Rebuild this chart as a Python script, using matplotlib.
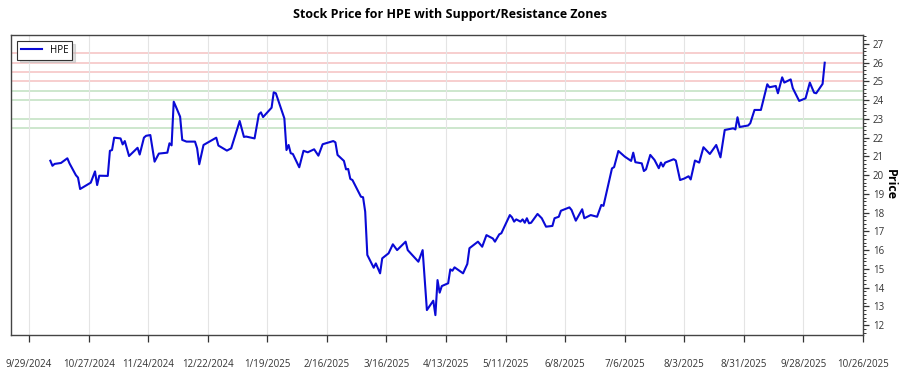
import matplotlib.pyplot as plt
import pandas as pd

plt.rcParams['font.family'] = ['Open Sans', 'DejaVu Sans']

ticker = 'HPE'

dates = [
    '2024-10-09', '2024-10-10', '2024-10-11', '2024-10-14', '2024-10-17', '2024-10-18',
    '2024-10-21', '2024-10-22', '2024-10-23', '2024-10-28', '2024-10-30', '2024-10-31',
    '2024-11-01', '2024-11-05', '2024-11-06', '2024-11-07', '2024-11-08', '2024-11-11',
    '2024-11-12', '2024-11-13', '2024-11-15', '2024-11-19', '2024-11-20', '2024-11-22',
    '2024-11-23', '2024-11-25', '2024-11-27', '2024-11-29', '2024-12-03', '2024-12-04',
    '2024-12-05', '2024-12-06', '2024-12-07', '2024-12-09', '2024-12-10', '2024-12-12',
    '2024-12-16', '2024-12-17', '2024-12-18', '2024-12-20', '2024-12-26', '2024-12-27',
    '2024-12-31', '2025-01-02', '2025-01-06', '2025-01-08', '2025-01-09', '2025-01-13',
    '2025-01-15', '2025-01-16', '2025-01-17', '2025-01-21', '2025-01-22', '2025-01-23',
    '2025-01-27', '2025-01-28', '2025-01-29', '2025-01-30', '2025-01-31', '2025-02-03',
    '2025-02-05', '2025-02-07', '2025-02-10', '2025-02-12', '2025-02-14', '2025-02-19',
    '2025-02-20', '2025-02-21', '2025-02-24', '2025-02-25', '2025-02-26', '2025-02-27',
    '2025-02-28', '2025-03-04', '2025-03-05', '2025-03-06', '2025-03-07', '2025-03-10',
    '2025-03-11', '2025-03-13', '2025-03-14', '2025-03-17', '2025-03-19', '2025-03-21',
    '2025-03-25', '2025-03-26', '2025-03-31', '2025-04-02', '2025-04-04', '2025-04-07',
    '2025-04-08', '2025-04-09', '2025-04-10', '2025-04-11', '2025-04-14', '2025-04-15',
    '2025-04-16', '2025-04-17', '2025-04-21', '2025-04-23', '2025-04-24', '2025-04-28',
    '2025-04-30', '2025-05-02', '2025-05-05', '2025-05-06', '2025-05-08', '2025-05-09',
    '2025-05-13', '2025-05-14', '2025-05-15', '2025-05-16', '2025-05-18', '2025-05-19',
    '2025-05-20', '2025-05-21', '2025-05-22', '2025-05-23', '2025-05-26', '2025-05-28',
    '2025-05-30', '2025-06-02', '2025-06-03', '2025-06-05', '2025-06-06', '2025-06-10',
    '2025-06-11', '2025-06-13', '2025-06-16', '2025-06-17', '2025-06-20', '2025-06-23',
    '2025-06-25', '2025-06-26', '2025-06-30', '2025-07-01', '2025-07-03', '2025-07-06',
    '2025-07-09', '2025-07-10', '2025-07-11', '2025-07-14', '2025-07-15', '2025-07-16',
    '2025-07-18', '2025-07-20', '2025-07-22', '2025-07-23', '2025-07-24', '2025-07-25',
    '2025-07-29', '2025-07-30', '2025-08-01', '2025-08-03', '2025-08-05', '2025-08-06',
    '2025-08-08', '2025-08-10', '2025-08-12', '2025-08-15', '2025-08-18', '2025-08-20',
    '2025-08-22', '2025-08-26', '2025-08-27', '2025-08-28', '2025-08-29', '2025-09-02',
    '2025-09-03', '2025-09-05', '2025-09-08', '2025-09-11', '2025-09-12', '2025-09-15',
    '2025-09-16', '2025-09-18', '2025-09-19', '2025-09-22', '2025-09-23', '2025-09-26',
    '2025-09-29', '2025-10-01', '2025-10-03', '2025-10-04', '2025-10-07', '2025-10-08',
]

prices = [
    20.77, 20.50, 20.60, 20.65, 20.90, 20.63,
    20.00, 19.87, 19.26, 19.60, 20.20, 19.47,
    19.97, 19.96, 21.30, 21.34, 22.00, 21.96,
    21.64, 21.82, 21.02, 21.46, 21.10, 22.00,
    22.10, 22.14, 20.72, 21.15, 21.20, 21.70,
    21.59, 23.92, 23.66, 23.12, 21.88, 21.79,
    21.79, 21.43, 20.58, 21.61, 22.00, 21.58,
    21.31, 21.43, 22.89, 22.04, 22.06, 21.96,
    23.24, 23.35, 23.10, 23.60, 24.42, 24.37,
    23.03, 21.34, 21.61, 21.17, 21.13, 20.42,
    21.30, 21.22, 21.38, 21.04, 21.65, 21.82,
    21.75, 21.08, 20.76, 20.31, 20.33, 19.80,
    19.74, 18.85, 18.82, 18.05, 15.74, 15.06,
    15.29, 14.76, 15.56, 15.83, 16.31, 16.00,
    16.45, 16.00, 15.38, 16.00, 12.80, 13.30,
    12.53, 14.40, 13.73, 14.08, 14.23, 14.97,
    14.90, 15.08, 14.76, 15.26, 16.10, 16.45,
    16.18, 16.80, 16.62, 16.45, 16.84, 16.90,
    17.87, 17.75, 17.52, 17.64, 17.52, 17.64,
    17.46, 17.70, 17.43, 17.46, 17.93, 17.70,
    17.25, 17.29, 17.70, 17.78, 18.10, 18.28,
    18.14, 17.57, 18.18, 17.70, 17.87, 17.78,
    18.41, 18.36, 20.36, 20.43, 21.29, 20.99,
    20.76, 21.20, 20.69, 20.63, 20.22, 20.31,
    21.08, 20.81, 20.37, 20.67, 20.46, 20.67,
    20.85, 20.78, 19.74, 19.82, 19.94, 19.77,
    20.78, 20.67, 21.49, 21.13, 21.61, 20.95,
    22.41, 22.50, 22.44, 23.09, 22.57, 22.65,
    22.77, 23.48, 23.48, 24.85, 24.69, 24.76,
    24.37, 25.22, 24.94, 25.11, 24.64, 23.96,
    24.10, 24.94, 24.40, 24.37, 24.87, 26.00,
]

resistance = [25.0, 25.5, 26.0, 26.5]
support = [22.5, 23.0, 24.0, 24.5]

xtick_labels = ['9/29/2024', '10/27/2024', '11/24/2024', '12/22/2024', '1/19/2025',
                '2/16/2025', '3/16/2025', '4/13/2025', '5/11/2025', '6/8/2025',
                '7/6/2025', '8/3/2025', '8/31/2025', '9/28/2025', '10/26/2025']
yticks = list(range(12, 28))

x = pd.to_datetime(dates)
xticks = pd.to_datetime(xtick_labels, format='%m/%d/%Y')

fig = plt.figure(figsize=(9, 3.75), dpi=100)
ax = fig.add_axes([0.0122, 0.1067, 0.9467, 0.80])

for level in resistance:
    ax.axhline(level, color='#e03030', alpha=0.28, lw=1.2, zorder=1)
for level in support:
    ax.axhline(level, color='#2e9a2e', alpha=0.28, lw=1.2, zorder=1)

ax.plot(x, prices, color='#0a0ad6', lw=1.5, label=ticker, zorder=3)

ax.set_xlim(pd.Timestamp('2024-09-20 12:00'), pd.Timestamp('2025-10-26'))
ax.set_ylim(11.47, 27.48)

ax.set_xticks(xticks)
ax.set_xticklabels(xtick_labels)
ax.grid(axis='x', color='#e4e4e4', lw=0.8, zorder=0)

ax.yaxis.tick_right()
ax.yaxis.set_label_position('right')
ax.set_yticks(yticks)
ax.yaxis.set_minor_locator(plt.MultipleLocator(0.2))
ax.set_ylabel('Price', fontsize=9, fontweight='bold', rotation=270, labelpad=9)

ax.tick_params(axis='x', labelsize=7, colors='#333333', length=5, pad=12, width=0.9)
ax.tick_params(axis='y', which='major', labelsize=7, colors='#333333', length=4, pad=3, width=0.9)
ax.tick_params(axis='y', which='minor', length=2, width=0.7, colors='#333333')

for side in ['left', 'right', 'top', 'bottom']:
    ax.spines[side].set_color('#444444')
    ax.spines[side].set_linewidth(1.0)

ax.set_title('Stock Price for HPE with Support/Resistance Zones', fontsize=9,
             fontweight='bold', pad=12, x=0.515)

leg = ax.legend(loc='upper left', fontsize=7, fancybox=False, shadow={'color': '#bbbbbb'},
                edgecolor='#333333', framealpha=1, handlelength=2.2,
                borderaxespad=0.6)
leg.get_frame().set_linewidth(0.8)

fig.savefig('out.png', dpi=100)
